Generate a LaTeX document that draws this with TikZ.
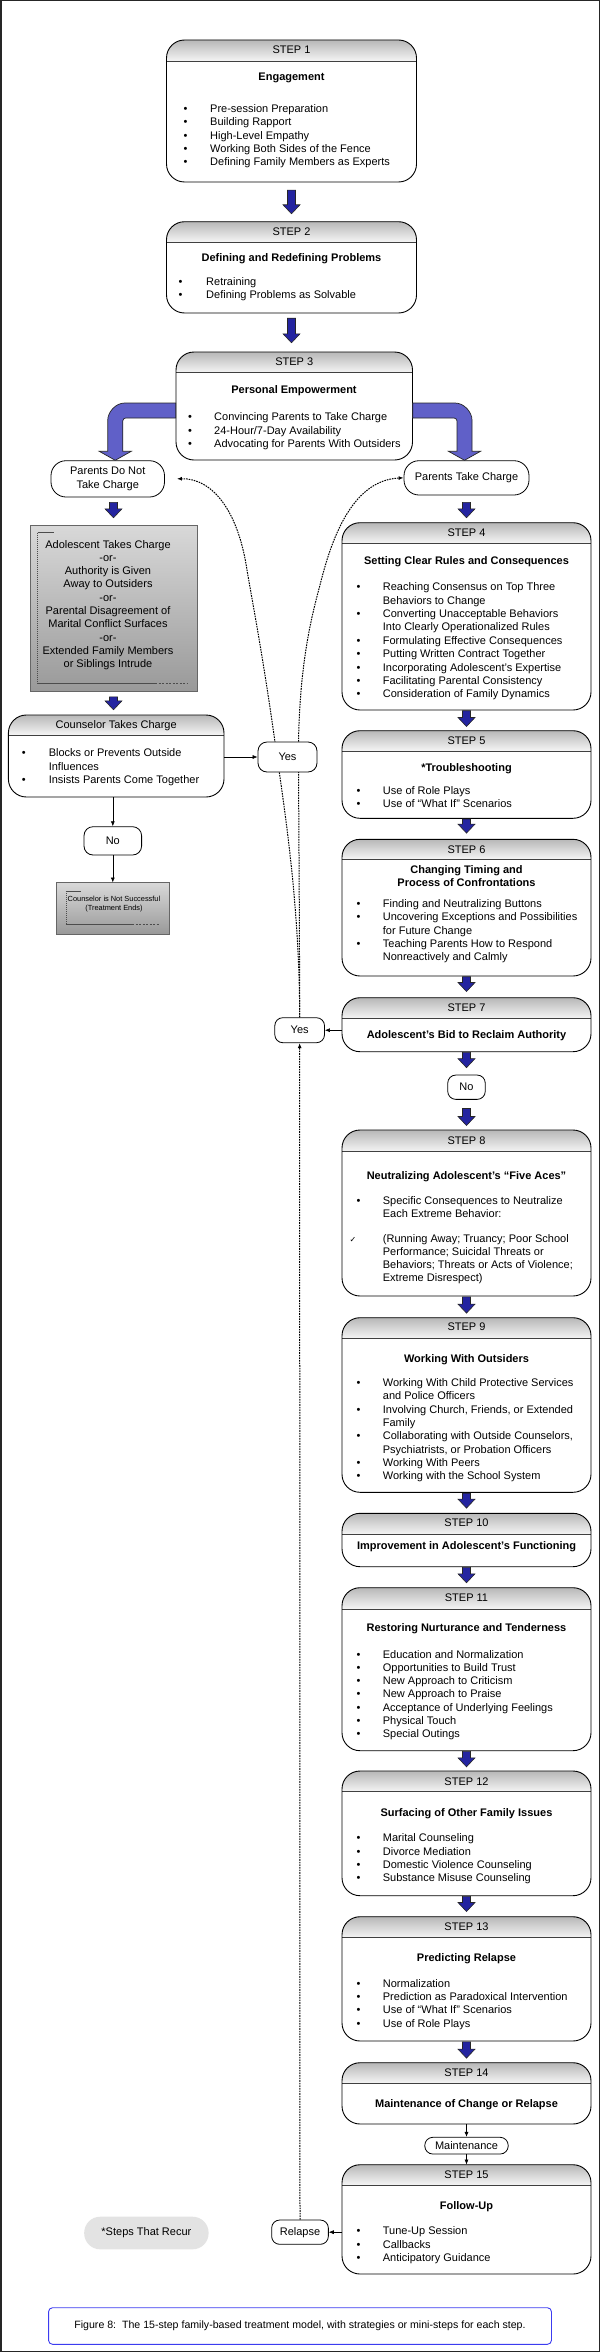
\documentclass[tikz,border=0pt]{standalone}
\usepackage{fontspec}
\setmainfont{Liberation Sans}
\newfontfamily\dejavu{DejaVu Sans}
\usetikzlibrary{arrows.meta,calc,fit}
\pgfdeclarelayer{bg}
\pgfdeclarelayer{lines}
\pgfsetlayers{bg,lines,main}
\definecolor{hdtop}{gray}{0.72}
\definecolor{hdbot}{gray}{0.96}
\definecolor{arrblue}{RGB}{36,36,160}
\definecolor{bigblue}{RGB}{96,96,200}
\definecolor{capblue}{RGB}{60,60,240}
\tikzset{
 txt/.style={font=\fontsize{11}{13.3}\selectfont, inner sep=0pt},
 ttl/.style={inner sep=0pt, font=\fontsize{11}{13.3}\selectfont\bfseries},
 smalltxt/.style={font=\fontsize{7.4}{8.7}\selectfont, inner sep=0pt},
 boxline/.style={draw=black, line width=0.9pt},
 hdline/.style={draw=black!75, line width=0.9pt},
 blockarr/.style={fill=arrblue, draw=black!85, line width=0.6pt},
 bigarr/.style={fill=bigblue, draw=black!85, line width=0.7pt},
 pill/.style={draw=black, line width=0.8pt, fill=white, rounded corners=8pt, txt},
 thinarr/.style={draw=black, line width=0.6pt, -{Latex[length=5pt,width=4pt]}},
 dotarr/.style={draw=black, line width=1pt, dash pattern=on 1.6pt off 1pt, -{Latex[length=5pt,width=4pt]}},
 framein/.style={draw=black!70, line width=0.5pt},
}
\newcommand\chk{{\dejavu\fontsize{8}{10}\selectfont ✓}}
% name, left, top, right, bottom, header bottom, label baseline, label
\newcommand\stepbox[8]{%
 \begin{scope}
  \clip[rounded corners=18pt] (#2,#3) rectangle (#4,#5);
  \shade[top color=hdtop, bottom color=hdbot] (#2,#3) rectangle (#4,#6);
  \fill[white] (#2,#6) rectangle (#4,#5);
 \end{scope}
 \draw[hdline] (#2,#6) -- (#4,#6);
 \draw[boxline, rounded corners=18pt] (#2,#3) rectangle (#4,#5);
 \node[inner sep=0pt, fit={(#2,#3) (#4,#5)}] (#1) {};
 \node[txt, anchor=base] at ({(#2+#4)/2},#7) {#8};
}
% bullet x, text x, first baseline, spacing, items
\newcommand\blist[5]{%
 \foreach \ba/\tx [count=\ii from 0] in {#5}{%
  \pgfmathsetmacro\yy{#3+\ii*#4}%
  \node[txt, anchor=base west] at (#2,\yy) {\tx};%
  \ifnum\ba=1 \node[txt, anchor=base] at (#1,\yy) {\textbullet};\fi
  \ifnum\ba=2 \node[txt, anchor=base] at (#1,\yy) {\chk};\fi
 }}
\newcommand\blockarrow[4]{%
 \path[blockarr] let \p1=#1, \p2=#2 in
 (\x1-4pt,\y1-#3pt) -- (\x1+4pt,\y1-#3pt) -- (\x1+4pt,\y2+#4pt+9pt) -- (\x1+8.5pt,\y2+#4pt+9pt)
 -- (\x1,\y2+#4pt) -- (\x1-8.5pt,\y2+#4pt+9pt) -- (\x1-4pt,\y2+#4pt+9pt) -- cycle;}

\begin{document}
\begin{tikzpicture}[x=1pt,y=-1pt]
\useasboundingbox (0,0) rectangle (600,2352);
\begin{pgfonlayer}{bg}
\fill[white] (0,0) rectangle (600,2352);
\end{pgfonlayer}

% ---------- main column ----------
\stepbox{s1}{166.5}{40}{416.5}{182}{61}{54}{STEP 1}
\node[ttl, anchor=base] at (291.5,81) {Engagement};
\blist{185.6}{210}{112.7}{13.3}{1/{Pre-session Preparation},1/{Building Rapport},1/{High-Level Empathy},1/{Working Both Sides of the Fence},1/{Defining Family Members as Experts}}

\stepbox{s2}{166.5}{221.7}{416.5}{313}{242}{235}{STEP 2}
\node[ttl, anchor=base] at (291.5,261) {Defining and Redefining Problems};
\blist{180.6}{206}{285}{13}{1/{Retraining},1/{Defining Problems as Solvable}}

\stepbox{s3}{176}{352}{412.5}{460}{372.7}{365.7}{STEP 3}
\node[ttl, anchor=base] at (294,393) {Personal Empowerment};
\blist{190}{214}{420.7}{13.6}{1/{Convincing Parents to Take Charge},1/{24-Hour/7-Day Availability},1/{Advocating for Parents With Outsiders}}

% ---------- left branch ----------
\node[pill, rounded corners=15pt, minimum width=113.5pt, minimum height=36.3pt, align=center, font=\fontsize{11}{14}\selectfont] (pdn) at (107.75,478.85) {Parents Do Not\\Take Charge};

\shade[top color=black!15, bottom color=black!40, draw=black!60, line width=0.6pt] (30,525) rectangle (197,691.7);
\node[inner sep=0pt, fit={(30,525) (197,691.7)}] (gray) {};
\draw[framein] (37.5,532.7) -- (53.6,532.7);
\draw[framein, dash pattern=on 1pt off 1pt] (37.5,532.7) -- (37.5,683);
\draw[framein] (37.5,683) -- (155,683);
\draw[framein, dash pattern=on 2pt off 1.5pt] (155,683) -- (187.5,683);
\foreach \tx [count=\ii from 0] in {Adolescent Takes Charge,-or-,Authority is Given,Away to Outsiders,-or-,Parental Disagreement of,Marital Conflict Surfaces,-or-,Extended Family Members,or Siblings Intrude}{
 \node[txt, anchor=base] at (108,{548+\ii*13.3}) {\tx};}

\stepbox{cT}{8.4}{715}{224}{797}{735}{728.3}{Counselor Takes Charge}
\blist{23.7}{48.6}{756.7}{13.3}{1/{Blocks or Prevents Outside},0/{Influences},1/{Insists Parents Come Together}}

\node[pill, minimum width=59pt, minimum height=30pt, rounded corners=9pt] (yes1) at (287.5,757) {Yes};
\node[pill, minimum width=57.6pt, minimum height=28.3pt, rounded corners=9pt] (no1) at (112.8,840.85) {No};

\shade[top color=black!15, bottom color=black!40, draw=black!60, line width=0.6pt] (56.6,882.7) rectangle (169,934);
\node[inner sep=0pt, fit={(56.6,882.7) (169,934)}] (ngray) {};
\draw[framein] (65.8,891) -- (81,891);
\draw[framein, dash pattern=on 1pt off 1pt] (65.8,891) -- (65.8,924);
\draw[framein] (65.8,924) -- (132,924);
\draw[framein, dash pattern=on 2pt off 1.5pt] (132,924) -- (159,924);
\node[smalltxt, anchor=base] at (114,901.8) {Counselor is Not Successful};
\node[smalltxt, anchor=base] at (114,910.5) {(Treatment Ends)};

% ---------- right column ----------
\node[pill, rounded corners=15pt, minimum width=125pt, minimum height=34.3pt] (ptc) at (466.5,477.85) {Parents Take Charge};

\stepbox{s4}{342}{522.7}{591}{710}{543.3}{536.3}{STEP 4}
\node[ttl, anchor=base] at (466.5,564) {Setting Clear Rules and Consequences};
\blist{358.6}{382.7}{590.7}{13.4}{1/{Reaching Consensus on Top Three},0/{Behaviors to Change},1/{Converting Unacceptable Behaviors},0/{Into Clearly Operationalized Rules},1/{Formulating Effective Consequences},1/{Putting Written Contract Together},1/{Incorporating Adolescent’s Expertise},1/{Facilitating Parental Consistency},1/{Consideration of Family Dynamics}}

\stepbox{s5}{342}{730.7}{591}{818.3}{751}{744}{STEP 5}
\node[ttl, anchor=base] at (466.5,771.7) {*Troubleshooting};
\blist{358.6}{382.7}{794}{13.3}{1/{Use of Role Plays},1/{Use of “What If” Scenarios}}

\stepbox{s6}{342}{839.3}{591}{976}{859}{853}{STEP 6}
\node[ttl, anchor=base] at (466.5,873.3) {Changing Timing and};
\node[ttl, anchor=base] at (466.5,886.7) {Process of Confrontations};
\blist{358.6}{382.7}{907.3}{13.35}{1/{Finding and Neutralizing Buttons},1/{Uncovering Exceptions and Possibilities},0/{for Future Change},1/{Teaching Parents How to Respond},0/{Nonreactively and Calmly}}

\stepbox{s7}{342}{997.7}{591}{1051.7}{1018.3}{1011}{STEP 7}
\node[ttl, anchor=base] at (466.5,1038.3) {Adolescent's Bid to Reclaim Authority};
\node[pill, minimum width=49.7pt, minimum height=25pt] (yes2) at (299.65,1030.2) {Yes};
\node[pill, minimum width=37.5pt, minimum height=24.3pt] (no2) at (466.5,1087.2) {No};

\stepbox{s8}{342}{1130}{591}{1296}{1151.7}{1144}{STEP 8}
\node[ttl, anchor=base] at (466.5,1179.7) {Neutralizing Adolescent’s “Five Aces”};
\blist{358.6}{382.7}{1204.7}{12.6}{1/{Specific Consequences to Neutralize},0/{Each Extreme Behavior:}}
\blist{352.9}{382.7}{1242.3}{13}{2/{(Running Away; Truancy; Poor School},0/{Performance; Suicidal Threats or},0/{Behaviors; Threats or Acts of Violence;},0/{Extreme Disrespect)}}

\stepbox{s9}{342}{1317.7}{591}{1492.3}{1338.3}{1330.7}{STEP 9}
\node[ttl, anchor=base] at (466.5,1362.3) {Working With Outsiders};
\blist{358.6}{382.7}{1386.3}{13.35}{1/{Working With Child Protective Services},0/{and Police Officers},1/{Involving Church, Friends, or Extended},0/{Family},1/{Collaborating with Outside Counselors,},0/{Psychiatrists, or Probation Officers},1/{Working With Peers},1/{Working with the School System}}

\stepbox{s10}{342}{1513.3}{591}{1566.7}{1534.3}{1526.3}{STEP 10}
\node[ttl, anchor=base] at (466.5,1549.7) {Improvement in Adolescent’s Functioning};

\stepbox{s11}{342}{1587.7}{591}{1750.7}{1609}{1601.7}{STEP 11}
\node[ttl, anchor=base] at (466.5,1631.3) {Restoring Nurturance and Tenderness};
\blist{358.6}{382.7}{1658}{13.28}{1/{Education and Normalization},1/{Opportunities to Build Trust},1/{New Approach to Criticism},1/{New Approach to Praise},1/{Acceptance of Underlying Feelings},1/{Physical Touch},1/{Special Outings}}

\stepbox{s12}{342}{1771}{591}{1895.7}{1791.7}{1785}{STEP 12}
\node[ttl, anchor=base] at (466.5,1816.3) {Surfacing of Other Family Issues};
\blist{358.6}{382.7}{1841.7}{13.33}{1/{Marital Counseling},1/{Divorce Mediation},1/{Domestic Violence Counseling},1/{Substance Misuse Counseling}}

\stepbox{s13}{342}{1916.7}{591}{2041}{1937.7}{1930}{STEP 13}
\node[ttl, anchor=base] at (466.5,1961.3) {Predicting Relapse};
\blist{358.6}{382.7}{1987.3}{13.33}{1/{Normalization},1/{Prediction as Paradoxical Intervention},1/{Use of “What If” Scenarios},1/{Use of Role Plays}}

\stepbox{s14}{342}{2062.7}{591}{2124}{2083.3}{2076}{STEP 14}
\node[ttl, anchor=base] at (466.5,2107.3) {Maintenance of Change or Relapse};

\node[pill, minimum width=83.4pt, minimum height=16.7pt] (mnt) at (466.5,2145.65) {Maintenance};

\stepbox{s15}{342}{2164.7}{591}{2274}{2185}{2178}{STEP 15}
\node[ttl, anchor=base] at (466.5,2209) {Follow-Up};
\blist{358.6}{382.7}{2234.7}{13.3}{1/{Tune-Up Session},1/{Callbacks},1/{Anticipatory Guidance}}

\node[pill, minimum width=56.7pt, minimum height=24.3pt] (rel) at (300,2232.15) {Relapse};
\node[txt, fill=black!11, rounded corners=16pt, minimum width=124.4pt, minimum height=32.6pt] (recur) at (146.4,2233) {*Steps That Recur};

\node[draw=capblue, line width=0.9pt, rounded corners=4pt, minimum width=502.9pt, minimum height=36.6pt, inner sep=0pt, font=\fontsize{10.6}{12}\selectfont] (cap) at (300,2326) {Figure 8:\ \ The 15-step family-based treatment model, with strategies or mini-steps for each step.};

% ---------- big curved arrows from step 3 ----------
\path[bigarr] let \p1=(s3.west), \p2=(pdn.north) in
 (\x1,\y1+3pt) -- (\x2+17pt,\y1+3pt) .. controls (\x2+7.6pt,\y1+3pt) and (\x2,\y1-6.4pt) .. (\x2,\y1-14pt)
 -- (\x2,\y2+9pt) -- (\x2-8.5pt,\y2+9pt) -- (\x2+7.5pt,\y2) -- (\x2+23.5pt,\y2+9pt) -- (\x2+15pt,\y2+9pt)
 -- (\x2+15pt,\y1-15pt) .. controls (\x2+15pt,\y1-13.4pt) and (\x2+16.4pt,\y1-12pt) .. (\x2+18pt,\y1-12pt)
 -- (\x1,\y1-12pt) -- cycle;
\path[bigarr] let \p1=(s3.east), \p2=(ptc.north) in
 (\x1,\y1+3pt) -- (\x2-11.5pt,\y1+3pt) .. controls (\x2-2.1pt,\y1+3pt) and (\x2+5.5pt,\y1-6.4pt) .. (\x2+5.5pt,\y1-14pt)
 -- (\x2+5.5pt,\y2+9pt) -- (\x2+14pt,\y2+9pt) -- (\x2-2pt,\y2) -- (\x2-18pt,\y2+9pt) -- (\x2-9.5pt,\y2+9pt)
 -- (\x2-9.5pt,\y1-15pt) .. controls (\x2-9.5pt,\y1-13.4pt) and (\x2-10.9pt,\y1-12pt) .. (\x2-12.5pt,\y1-12pt)
 -- (\x1,\y1-12pt) -- cycle;

% ---------- block arrows ----------
\blockarrow{(s1.south)}{(s2.north)}{8}{7.7}
\blockarrow{(s2.south)}{(s3.north)}{5}{9}
\blockarrow{(pdn.south -| gray.north)}{(gray.north)}{5}{7}
\blockarrow{(gray.south)}{(gray.south |- cT.north)}{5}{5}
\blockarrow{(ptc.south)}{(s4.north)}{7}{4.7}
\blockarrow{(s4.south)}{(s5.north)}{0.5}{4}
\blockarrow{(s5.south)}{(s6.north)}{0.5}{6}
\blockarrow{(s6.south)}{(s7.north)}{0.5}{6}
\blockarrow{(s7.south)}{(no2.north)}{0.5}{7}
\blockarrow{(no2.south)}{(s8.north)}{8.7}{4.3}
\blockarrow{(s8.south)}{(s9.north)}{0.7}{4.4}
\blockarrow{(s9.south)}{(s10.north)}{0.7}{5}
\blockarrow{(s10.south)}{(s11.north)}{0.5}{4.7}
\blockarrow{(s11.south)}{(s12.north)}{0.5}{4}
\blockarrow{(s12.south)}{(s13.north)}{0.5}{5}
\blockarrow{(s13.south)}{(s14.north)}{0.7}{4.4}

% ---------- thin connectors ----------
\draw[thinarr] (yes1.west -| cT.east) -- (yes1.west);
\draw[thinarr] (cT.south -| no1.north) -- (no1.north);
\draw[thinarr] (no1.south) -- (ngray.north -| no1.south);
\draw[thinarr] (yes2.east -| s7.west) -- (yes2.east);
\draw[thinarr] (s14.south) -- (mnt.north);
\draw[thinarr] (mnt.south) -- (s15.north);
\draw[thinarr] (rel.east -| s15.west) -- (rel.east);

% ---------- dotted return paths ----------
\begin{pgfonlayer}{lines}
\draw[dotarr] (yes2.north) .. controls (299.7,900) and (283,800) .. (275,742)
 .. controls (262,650) and (252,600) .. (247,570)
 .. controls (238,510) and (212,478) .. ([xshift=12pt]pdn.east);
\draw[dotarr] (yes2.north) .. controls (299.5,900) and (298.5,800) .. (298.5,742)
 .. controls (300,660) and (312,615) .. (320,585)
 .. controls (330,545) and (350,480) .. (ptc.west);
\draw[dotarr] (rel.north) -- (yes2.south);
\end{pgfonlayer}

\draw[line width=1.5pt, black!85] (0.75,0.75) rectangle (599.25,2351.25);
\end{tikzpicture}
\end{document}
